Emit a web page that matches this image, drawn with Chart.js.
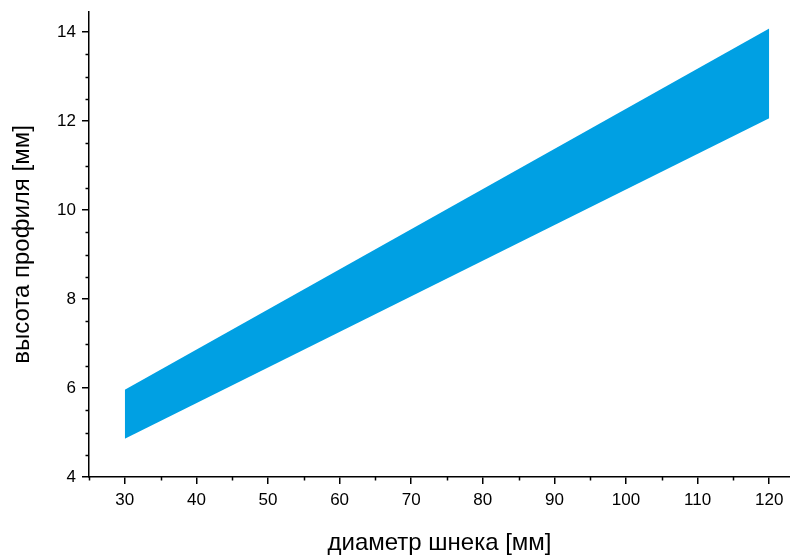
<!DOCTYPE html>
<html>
<head>
<meta charset="utf-8">
<script src="https://cdn.jsdelivr.net/npm/chart.js@4"></script>
<style>
html,body{margin:0;padding:0;background:#fff;}
#c{display:block;}
</style>
</head>
<body>
<canvas id="c" width="790" height="555"></canvas>
<script>
// Data
const diameters = [30, 120];
const lowerHeight = [4.86, 12.06];
const upperHeight = [5.96, 14.08];
const xMajorTicks = [30, 40, 50, 60, 70, 80, 90, 100, 110, 120];
const yMajorTicks = [4, 6, 8, 10, 12, 14];
const xTitle = 'диаметр шнека [мм]';
const yTitle = 'высота профиля [мм]';

const FONT = '"Liberation Sans", Arial, Helvetica, sans-serif';
const BAND = 'rgb(0,160,227)';

const toPts = (xs, ys) => xs.map((x, i) => ({x: x, y: ys[i]}));
const isMajor = (axis, v) => {
  const list = axis === 'x' ? xMajorTicks : yMajorTicks;
  return list.some(m => Math.abs(m - v) < 1e-6);
};

const minorTicks = {
  id: 'minorTicks',
  afterDraw(chart) {
    const ctx = chart.ctx;
    ctx.save();
    ctx.strokeStyle = '#000';
    ctx.lineWidth = 1.5;
    const xs = chart.scales.x, ys = chart.scales.y;
    xs.ticks.forEach(t => {
      if (isMajor('x', t.value)) return;
      const px = Math.round(xs.getPixelForValue(t.value)) + 0.5;
      ctx.beginPath();
      ctx.moveTo(px, xs.top);
      ctx.lineTo(px, xs.top + 3.5);
      ctx.stroke();
    });
    ys.ticks.forEach(t => {
      if (isMajor('y', t.value)) return;
      const py = Math.round(ys.getPixelForValue(t.value)) + 0.5;
      ctx.beginPath();
      ctx.moveTo(ys.right, py);
      ctx.lineTo(ys.right - 3.5, py);
      ctx.stroke();
    });
    ctx.restore();
  }
};

// rebuild ticks at every step inside [first, last]
const stepTicks = (first, last, step) => (scale) => {
  const out = [];
  const n = Math.round((last - first) / step);
  for (let i = 0; i <= n; i++) out.push({value: +(first + i * step).toFixed(6)});
  scale.ticks = out;
};

new Chart(document.getElementById('c'), {
  type: 'line',
  data: {
    datasets: [
      {
        label: 'upper',
        data: toPts(diameters, upperHeight),
        borderWidth: 0,
        borderColor: BAND,
        backgroundColor: BAND,
        pointRadius: 0,
        fill: '+1'
      },
      {
        label: 'lower',
        data: toPts(diameters, lowerHeight),
        borderWidth: 0,
        borderColor: BAND,
        backgroundColor: BAND,
        pointRadius: 0,
        fill: false
      }
    ]
  },
  options: {
    responsive: false,
    animation: false,
    layout: {padding: {top: 12, right: 0, left: 0, bottom: 0}},
    plugins: {legend: {display: false}, tooltip: {enabled: false}},
    scales: {
      x: {
        type: 'linear',
        min: 25,
        max: 122.9,
        afterFit(s) { s.height = 78; s.paddingLeft = 0; s.paddingRight = 0; },
        afterBuildTicks: stepTicks(25, 120, 5),
        ticks: {
          autoSkip: false,
          maxRotation: 0,
          padding: 6,
          color: '#000',
          font: {family: FONT, size: 17},
          callback: (v) => isMajor('x', v) ? String(v) : ''
        },
        grid: {
          drawOnChartArea: false,
          drawTicks: true,
          tickLength: 7,
          lineWidth: 1.5,
          color: (c) => (c.tick && isMajor('x', c.tick.value)) ? '#000' : 'rgba(0,0,0,0)'
        },
        border: {display: true, color: '#000', width: 1.5},
        title: {
          display: true,
          text: xTitle,
          color: '#000',
          font: {family: FONT, size: 24, lineHeight: 1},
          padding: {top: 0, bottom: 0}
        }
      },
      y: {
        type: 'linear',
        min: 4,
        max: 14.45,
        afterFit(s) { s.width = 89; s.paddingTop = 0; s.paddingBottom = 0; },
        afterBuildTicks: stepTicks(4, 14, 0.5),
        ticks: {
          autoSkip: false,
          padding: 6,
          color: '#000',
          font: {family: FONT, size: 17},
          callback: (v) => isMajor('y', v) ? String(v) : ''
        },
        grid: {
          drawOnChartArea: false,
          drawTicks: true,
          tickLength: 7,
          lineWidth: 1.5,
          color: (c) => (c.tick && isMajor('y', c.tick.value)) ? '#000' : 'rgba(0,0,0,0)'
        },
        border: {display: true, color: '#000', width: 1.5},
        title: {
          display: true,
          text: yTitle,
          color: '#000',
          font: {family: FONT, size: 24, lineHeight: 1},
          padding: {top: 10, bottom: 0}
        }
      }
    }
  },
  plugins: [minorTicks]
});
</script>
</body>
</html>
